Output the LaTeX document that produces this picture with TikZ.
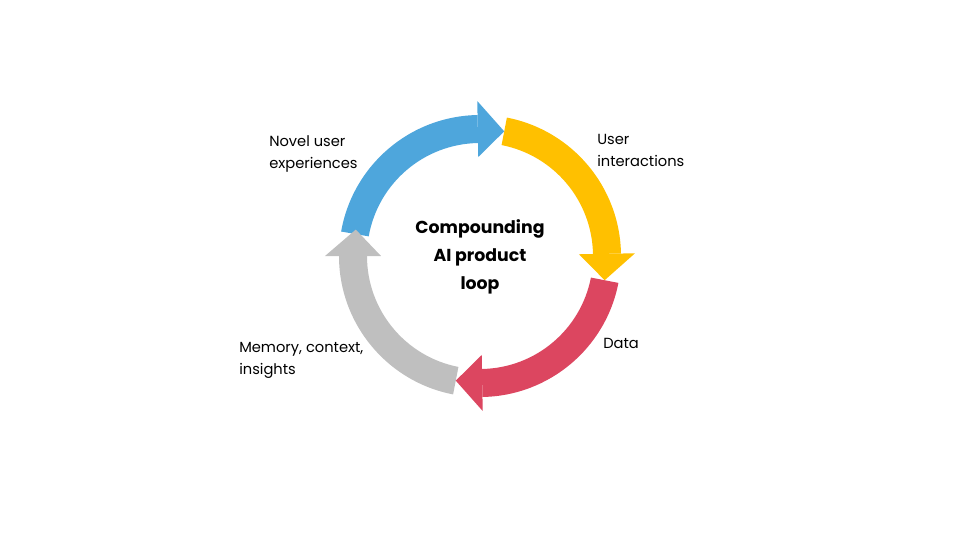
\documentclass[tikz,border=0pt]{standalone}
\usepackage{fontspec}
\setmainfont{Poppins}
\definecolor{loopblue}{HTML}{4EA6DC}
\definecolor{loopyellow}{HTML}{FFC000}
\definecolor{loopred}{HTML}{DC4660}
\definecolor{loopgray}{HTML}{BFBFBF}
\tikzset{
  label text/.style = {align = left, anchor = north west, font = \fontsize{11}{16.5}\selectfont, inner sep = 0pt},
  centre text/.style = {align = center, font = \fontsize{13}{21}\selectfont\bfseries}
}

\begin{document}
\begin{tikzpicture}[x = 0.75pt, y = 0.75pt]
	 \useasboundingbox (-480, -284) rectangle (480, 256);
	 
	 % bodies of the four arcs
	 \foreach \s/\e/\c in {170/79/loopblue, 79/-11/loopyellow, -11/-101/loopred, -101/-192/loopgray}
	 \fill[\c] (\s:141) arc[start angle = \s, end angle = \e + 12, radius = 141]
	   -- (\e + 12:113) arc[start angle = \e + 12, end angle = \s, radius = 113] -- cycle;
	 
	 % heads on top
	 \foreach \e/\c in {79/loopblue, -11/loopyellow, -101/loopred, -192/loopgray}
	 \fill[\c] (\e + 12:155) -- (\e:127) -- (\e + 12:99) -- cycle;
	 
	 \node[centre text] (title) at (0, -1) {Compounding\\AI product\\loop};
	 
	 \node[label text] (novel) at (-211, 121) {Novel user\\experiences};
	 \node[label text] (inter) at (117, 122) {User\\interactions};
	 \node[label text] (data) at (123, -82) {Data};
	 \node[label text] (memory) at (-241, -86) {Memory, context,\\insights};
\end{tikzpicture}
\end{document}
